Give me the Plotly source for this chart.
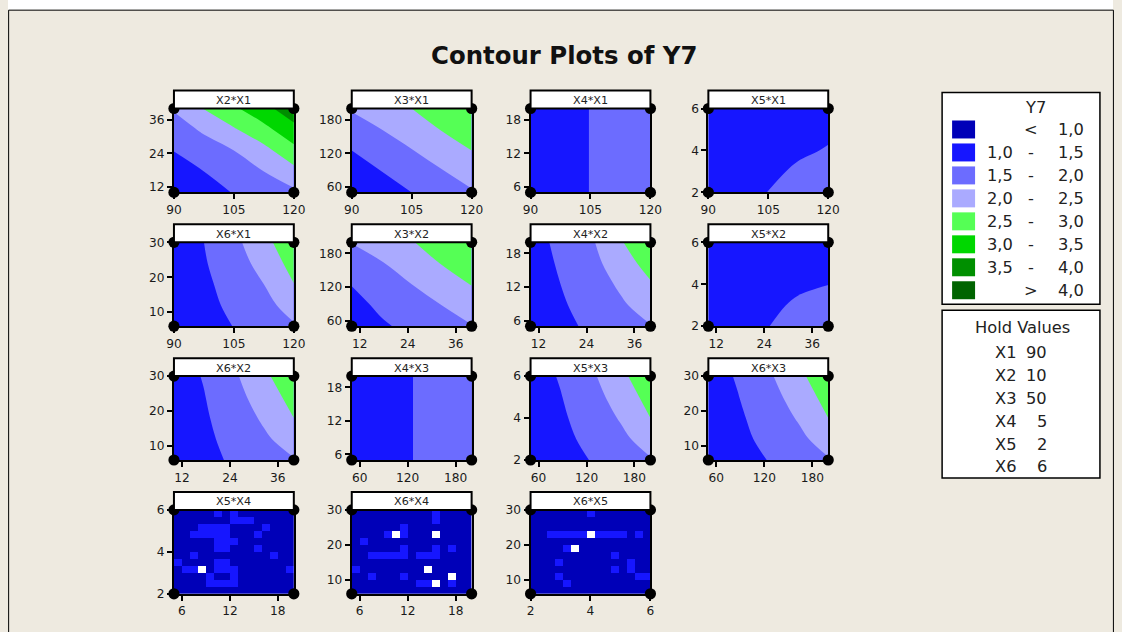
import plotly.graph_objects as go

# The page is photographed slightly reduced and the body keeps its 8px margin;
# geometry below is given in picture pixels and converted to figure pixels.
SCALE_X, SCALE_Y = 0.9833, 0.9793
SHIFT_Y = 1.5
BODY = 8
W, H = 1125, 632

TITLE = "Contour Plots of Y7"

# ---- legend bands of Y7 ----
BAND_COLORS = ["#0000B8", "#1616FF", "#6C6CFF", "#AAAAFF",
               "#55FF55", "#00D700", "#008F00", "#006400"]
BAND_LO = ["", "1,0", "1,5", "2,0", "2,5", "3,0", "3,5", ""]
BAND_SEP = ["<", "-", "-", "-", "-", "-", "-", ">"]
BAND_HI = ["1,0", "1,5", "2,0", "2,5", "3,0", "3,5", "4,0", "4,0"]
LEVEL_START, LEVEL_END, LEVEL_SIZE = 1.0, 4.0, 0.5

HOLD_VARS = ["X1", "X2", "X3", "X4", "X5", "X6"]
HOLD_VALS = [90, 10, 50, 5, 2, 6]

AXIS_RANGE = {"X1": [90, 120], "X2": [10, 40], "X3": [50, 200],
              "X4": [5, 20], "X5": [2, 6], "X6": [6, 30]}
AXIS_TICKS = {"X1": [90, 105, 120], "X2": [12, 24, 36], "X3": [60, 120, 180],
              "X4": [6, 12, 18], "X5": [2, 4, 6], "X6": [10, 20, 30]}
GRID = {"X1": [90, 97.5, 105, 112.5, 120], "X2": [10, 17.5, 25, 32.5, 40],
        "X3": [50, 87.5, 125, 162.5, 200], "X4": [5, 8.75, 12.5, 16.25, 20],
        "X5": [2, 3, 4, 5, 6], "X6": [6, 12, 18, 24, 30]}

# ---- panels: (y variable, x variable) ----
PANEL_Y = ["X2", "X3", "X4", "X5", "X6", "X3", "X4", "X5", "X6", "X4", "X5", "X6", "X5", "X6", "X6"]
PANEL_X = ["X1", "X1", "X1", "X1", "X1", "X2", "X2", "X2", "X2", "X3", "X3", "X3", "X4", "X4", "X5"]

# Y7 estimates on GRID (rows: y ascending, cols: x ascending)
Z_X2_X1 = [[1.15, 1.32, 1.52, 1.72, 1.90],
           [1.32, 1.50, 1.72, 2.00, 2.35],
           [1.51, 1.75, 2.00, 2.35, 2.85],
           [1.75, 2.08, 2.45, 2.85, 3.35],
           [2.05, 2.52, 2.92, 3.35, 3.80]]
Z_X3_X1 = [[1.15, 1.32, 1.50, 1.72, 1.95],
           [1.32, 1.50, 1.72, 1.97, 2.22],
           [1.50, 1.72, 1.98, 2.25, 2.50],
           [1.75, 2.00, 2.25, 2.52, 2.75],
           [2.05, 2.28, 2.50, 2.75, 2.98]]
Z_X4_X1 = [[1.15, 1.32, 1.51, 1.72, 1.95],
           [1.15, 1.32, 1.51, 1.72, 1.95],
           [1.15, 1.32, 1.51, 1.72, 1.95],
           [1.15, 1.32, 1.51, 1.72, 1.95],
           [1.15, 1.32, 1.51, 1.72, 1.95]]
Z_X5_X1 = [[1.15, 1.32, 1.51, 1.72, 1.95],
           [1.10, 1.25, 1.40, 1.57, 1.75],
           [1.08, 1.20, 1.32, 1.43, 1.53],
           [1.06, 1.16, 1.26, 1.35, 1.42],
           [1.05, 1.13, 1.22, 1.30, 1.36]]
Z_X6_X1 = [[1.15, 1.32, 1.51, 1.72, 1.95],
           [1.18, 1.37, 1.60, 1.85, 2.20],
           [1.21, 1.41, 1.68, 2.00, 2.49],
           [1.25, 1.46, 1.78, 2.17, 2.68],
           [1.28, 1.50, 1.87, 2.35, 2.85]]
Z_X3_X2 = [[1.15, 1.42, 1.65, 1.82, 1.98],
           [1.30, 1.62, 1.80, 2.00, 2.22],
           [1.52, 1.72, 2.00, 2.25, 2.52],
           [1.72, 1.97, 2.25, 2.52, 2.75],
           [2.02, 2.28, 2.47, 2.75, 2.98]]
Z_X4_X2 = [[1.15, 1.38, 1.58, 1.80, 1.98],
           [1.18, 1.44, 1.68, 1.93, 2.20],
           [1.22, 1.50, 1.76, 2.07, 2.45],
           [1.26, 1.56, 1.84, 2.25, 2.70],
           [1.30, 1.62, 1.92, 2.45, 2.95]]
Z_X5_X2 = [[1.15, 1.35, 1.49, 1.72, 1.98],
           [1.10, 1.27, 1.40, 1.57, 1.76],
           [1.08, 1.21, 1.32, 1.42, 1.49],
           [1.06, 1.16, 1.25, 1.33, 1.40],
           [1.05, 1.13, 1.20, 1.27, 1.33]]
Z_X6_X2 = [[1.15, 1.36, 1.57, 1.78, 1.97],
           [1.18, 1.40, 1.65, 1.92, 2.22],
           [1.21, 1.44, 1.73, 2.07, 2.50],
           [1.25, 1.48, 1.83, 2.22, 2.68],
           [1.28, 1.53, 1.92, 2.40, 2.85]]
Z_X4_X3 = [[1.15, 1.32, 1.49, 1.72, 1.95],
           [1.15, 1.32, 1.49, 1.72, 1.95],
           [1.15, 1.32, 1.49, 1.72, 1.95],
           [1.15, 1.32, 1.49, 1.72, 1.95],
           [1.15, 1.32, 1.49, 1.72, 1.95]]
Z_X5_X3 = [[1.15, 1.32, 1.51, 1.72, 1.96],
           [1.18, 1.38, 1.61, 1.88, 2.22],
           [1.21, 1.43, 1.70, 2.04, 2.50],
           [1.25, 1.48, 1.80, 2.20, 2.68],
           [1.28, 1.54, 1.90, 2.38, 2.85]]
Z_X6_X3 = [[1.15, 1.32, 1.51, 1.72, 1.96],
           [1.18, 1.38, 1.62, 1.88, 2.22],
           [1.21, 1.43, 1.71, 2.04, 2.50],
           [1.25, 1.49, 1.81, 2.20, 2.68],
           [1.28, 1.55, 1.92, 2.38, 2.85]]

# noisy panels: 12 rows (top to bottom) x 15 cells; 0: <1.0, 1: 1.0-1.5, w: no value
CELL_Y7 = {"0": 0.85, "1": 1.25, "w": None}
N_X5_X4 = ["000001010000000",
           "000000011100000",
           "000111100001000",
           "001111100010000",
           "000001110000000",
           "000001100010000",
           "001000000000100",
           "100001100000000",
           "011w01110000001",
           "000010010000000",
           "000011110000000",
           "000000000000000"]
N_X6_X4 = ["000000000010000",
           "000000000010000",
           "000000100000000",
           "00001w1000w0000",
           "010000000000000",
           "000000100010100",
           "001111101110000",
           "000000000000000",
           "100000000w00000",
           "001000100000w00",
           "0000000011w0100",
           "000000000000000"]
N_X6_X5 = ["000000010000000",
           "000000000000000",
           "000000000000000",
           "0011111w1111010",
           "000000000000000",
           "00001w000000000",
           "000000000010000",
           "000100000000100",
           "000000000010100",
           "000100000000011",
           "000010000000000",
           "000000000000000"]

PANEL_DATA = [Z_X2_X1, Z_X3_X1, Z_X4_X1, Z_X5_X1,
              Z_X6_X1, Z_X3_X2, Z_X4_X2, Z_X5_X2,
              Z_X6_X2, Z_X4_X3, Z_X5_X3, Z_X6_X3,
              N_X5_X4, N_X6_X4, N_X6_X5]

# ---- geometry (picture pixels) ----
COL_LEFT = [174, 352, 531, 709]
ROW_TOP = [108, 242, 376, 510]
PLOT_W, PLOT_H, TITLE_H = 120, 84, 18
FONT = "DejaVu Sans"
BG = "#EEEAE0"


def px(x):
    return (x / SCALE_X - BODY) / W


def py(y):
    return 1 - ((y + SHIFT_Y) / SCALE_Y - BODY) / H


def fs(size):
    return size / SCALE_X


n_b = len(BAND_COLORS)
colorscale = []
for k, c in enumerate(BAND_COLORS):
    colorscale.append([k / n_b, c])
    colorscale.append([(k + 1) / n_b, c])

fig = go.Figure()
layout = {}
shapes = []
annotations = []

for i, (yv, xv, data) in enumerate(zip(PANEL_Y, PANEL_X, PANEL_DATA)):
    r, c = divmod(i, 4)
    s = "" if i == 0 else str(i + 1)
    xa, ya = "x" + s, "y" + s
    x0p, x1p = COL_LEFT[c], COL_LEFT[c] + PLOT_W
    y0p, y1p = ROW_TOP[r], ROW_TOP[r] + PLOT_H
    xr, yr = AXIS_RANGE[xv], AXIS_RANGE[yv]

    if isinstance(data[0], str):
        rows = [[CELL_Y7[ch] for ch in row] for row in reversed(data)]
        nx, ny = len(data[0]), len(data)
        dx = (xr[1] - xr[0]) / nx
        dy = (yr[1] - yr[0]) / ny
        fig.add_trace(go.Heatmap(z=rows, x0=xr[0] + dx / 2, dx=dx, y0=yr[0] + dy / 2, dy=dy,
                                 colorscale=colorscale, zmin=0.5, zmax=4.5, showscale=False,
                                 hoverinfo="skip", xaxis=xa, yaxis=ya))
    else:
        fig.add_trace(go.Contour(x=GRID[xv], y=GRID[yv], z=data, colorscale=colorscale,
                                 zmin=0.5, zmax=4.5, autocontour=False,
                                 contours=dict(start=LEVEL_START, end=LEVEL_END, size=LEVEL_SIZE,
                                               coloring="fill", showlines=False),
                                 line=dict(width=0, smoothing=1), showscale=False,
                                 hoverinfo="skip", xaxis=xa, yaxis=ya))
    fig.add_trace(go.Scatter(x=[xr[0], xr[1], xr[0], xr[1]], y=[yr[0], yr[0], yr[1], yr[1]],
                             mode="markers", marker=dict(size=fs(11), color="black"),
                             cliponaxis=False, hoverinfo="skip", showlegend=False,
                             xaxis=xa, yaxis=ya))
    common = dict(showline=True, linewidth=2, linecolor="black", mirror=True,
                  ticks="outside", ticklen=5, tickwidth=2, tickcolor="black",
                  showgrid=False, zeroline=False, fixedrange=True,
                  tickfont=dict(family=FONT, size=fs(12), color="#1a1a1a"))
    layout["xaxis" + s] = dict(domain=[px(x0p), px(x1p)], range=xr, tickvals=AXIS_TICKS[xv],
                               anchor=ya, **common)
    layout["yaxis" + s] = dict(domain=[py(y1p), py(y0p)], range=yr, tickvals=AXIS_TICKS[yv],
                               anchor=xa, **common)
    # panel title box
    shapes.append(dict(type="rect", xref="paper", yref="paper", x0=px(x0p), x1=px(x1p),
                       y0=py(y0p), y1=py(y0p - TITLE_H), fillcolor="white",
                       line=dict(color="black", width=2), layer="above"))
    annotations.append(dict(text=f"{yv}*{xv}", xref="paper", yref="paper",
                            x=px((x0p + x1p) / 2), y=py(y0p - TITLE_H / 2 + 1),
                            xanchor="center", yanchor="middle", showarrow=False,
                            font=dict(family=FONT, size=fs(11), color="#222")))

# outer frame (white strip above the beige panel, then the black border)
shapes.append(dict(type="rect", xref="paper", yref="paper", x0=0, x1=1,
                   y0=py(9), y1=1.02, fillcolor="white", line=dict(width=0), layer="above"))
shapes.append(dict(type="rect", xref="paper", yref="paper", x0=px(8.5), x1=px(1114.5),
                   y0=py(700), y1=py(9.5), line=dict(color="black", width=1), layer="above"))

annotations.append(dict(text=f"<b>{TITLE}</b>", xref="paper", yref="paper", x=px(564), y=py(55),
                        xanchor="center", yanchor="middle", showarrow=False,
                        font=dict(family=FONT, size=fs(24), color="#111")))

# legend box
shapes.append(dict(type="rect", xref="paper", yref="paper", x0=px(943), x1=px(1101),
                   y0=py(304), y1=py(92), fillcolor="white",
                   line=dict(color="black", width=1.5), layer="above"))
annotations.append(dict(text="Y7", xref="paper", yref="paper", x=px(1036), y=py(107),
                        xanchor="center", yanchor="middle", showarrow=False,
                        font=dict(family=FONT, size=fs(16), color="#222")))
for k in range(n_b):
    yc = 129 + 23 * k
    shapes.append(dict(type="rect", xref="paper", yref="paper", x0=px(953), x1=px(976),
                       y0=py(yc + 9), y1=py(yc - 9), fillcolor=BAND_COLORS[k],
                       line=dict(width=0), layer="above"))
    for txt, xx, anc in [(BAND_LO[k], 1016, "right"), (BAND_SEP[k], 1032, "center"),
                         (BAND_HI[k], 1087, "right")]:
        if txt:
            annotations.append(dict(text=txt, xref="paper", yref="paper", x=px(xx), y=py(yc),
                                    xanchor=anc, yanchor="middle", showarrow=False,
                                    font=dict(family=FONT, size=fs(16), color="#222")))

# hold values box
shapes.append(dict(type="rect", xref="paper", yref="paper", x0=px(943), x1=px(1101),
                   y0=py(478), y1=py(310), fillcolor="white",
                   line=dict(color="black", width=1.5), layer="above"))
annotations.append(dict(text="Hold Values", xref="paper", yref="paper", x=px(1023), y=py(327),
                        xanchor="center", yanchor="middle", showarrow=False,
                        font=dict(family=FONT, size=fs(16), color="#222")))
for k, (nm, val) in enumerate(zip(HOLD_VARS, HOLD_VALS)):
    yc = 352 + 23 * k
    annotations.append(dict(text=nm, xref="paper", yref="paper", x=px(994), y=py(yc),
                            xanchor="left", yanchor="middle", showarrow=False,
                            font=dict(family=FONT, size=fs(16), color="#222")))
    annotations.append(dict(text=str(val), xref="paper", yref="paper", x=px(1050), y=py(yc),
                            xanchor="right", yanchor="middle", showarrow=False,
                            font=dict(family=FONT, size=fs(16), color="#222")))

fig.update_layout(width=W, height=H, margin=dict(l=0, r=0, t=0, b=0),
                  paper_bgcolor=BG, plot_bgcolor="white", showlegend=False,
                  shapes=shapes, annotations=annotations, **layout)
fig.write_html("out.html")
